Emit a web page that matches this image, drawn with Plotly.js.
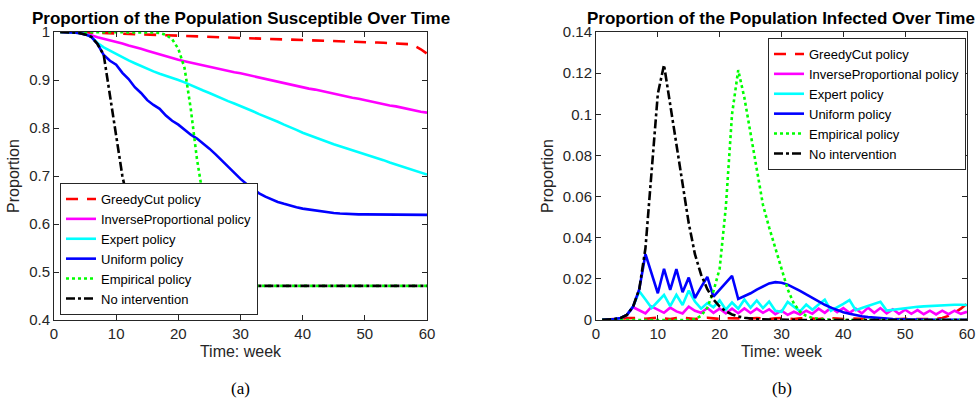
<!DOCTYPE html>
<html>
<head>
<meta charset="utf-8">
<script src="https://cdn.plot.ly/plotly-3.0.1.min.js"></script>
<style>html,body{margin:0;padding:0;background:#fff;}#chart{width:977px;height:402px;}</style>
</head>
<body>
<div id="chart"></div>
<script>
// ---------- data ----------
const weeks = [1,2,3,4,5,6,7,8,9,10,11,12,13,14,15,16,17,18,19,20,21,22,23,24,25,26,27,28,29,30,
               31,32,33,34,35,36,37,38,39,40,41,42,43,44,45,46,47,48,49,50,51,52,53,54,55,56,57,58,59,60];
const seriesNames = ["GreedyCut policy","InverseProportional policy","Expert policy","Uniform policy","Empirical policy","No intervention"];

// Susceptible proportion (panel a)
const susGreedy = [1,1,0.9998,0.9996,0.999,0.9987,0.9984,0.998,0.9976,0.9972,0.9968,0.9964,0.996,0.9956,0.9952,0.9948,0.9944,0.994,0.9936,0.993,
  0.9925,0.992,0.9914,0.9908,0.9902,0.9896,0.989,0.9885,0.988,0.9875,0.987,0.9865,0.986,0.9855,0.985,0.9845,0.984,0.9836,0.9832,0.9828,
  0.9824,0.982,0.9816,0.9812,0.9808,0.9804,0.98,0.9796,0.9792,0.9788,0.9784,0.978,0.9776,0.9772,0.9768,0.9762,0.9748,0.971,0.964,0.955];
const susInverse = [1,1,0.999,0.998,0.996,0.993,0.989,0.986,0.983,0.979,0.976,0.972,0.969,0.965,0.961,0.957,0.953,0.949,0.946,0.942,
  0.939,0.936,0.933,0.931,0.928,0.925,0.922,0.919,0.916,0.914,0.911,0.908,0.905,0.902,0.899,0.896,0.894,0.891,0.888,0.885,
  0.882,0.880,0.877,0.874,0.871,0.869,0.866,0.863,0.861,0.858,0.855,0.853,0.850,0.847,0.845,0.842,0.840,0.837,0.834,0.832];
const susExpert = [1,1,0.999,0.998,0.996,0.990,0.977,0.968,0.961,0.954,0.947,0.941,0.935,0.929,0.924,0.918,0.913,0.909,0.904,0.900,
  0.895,0.889,0.884,0.878,0.873,0.867,0.862,0.856,0.851,0.846,0.840,0.835,0.829,0.824,0.818,0.813,0.807,0.802,0.796,0.790,
  0.785,0.780,0.775,0.770,0.766,0.762,0.758,0.754,0.750,0.746,0.742,0.737,0.733,0.728,0.724,0.720,0.716,0.711,0.707,0.703];
const susUniform = [1,1,0.999,0.998,0.995,0.990,0.975,0.952,0.940,0.932,0.915,0.902,0.885,0.873,0.858,0.848,0.840,0.826,0.815,0.807,
  0.797,0.786,0.778,0.768,0.757,0.745,0.732,0.719,0.706,0.694,0.683,0.673,0.664,0.657,0.651,0.646,0.642,0.638,0.635,0.632,
  0.630,0.628,0.626,0.624,0.623,0.622,0.621,0.621,0.620,0.620,0.620,0.620,0.620,0.619,0.619,0.619,0.619,0.619,0.619,0.619];
const susEmpirical = [1,1,1,1,1,1,1,1,1,1,1,1,1,1,1,0.999,0.998,0.994,0.985,0.965,
  0.925,0.840,0.735,0.655,0.595,0.545,0.510,0.490,0.480,0.475,0.472,0.471,0.471,0.471,0.471,0.471,0.471,0.471,0.471,0.471,
  0.471,0.471,0.471,0.471,0.471,0.471,0.471,0.471,0.471,0.471,0.471,0.471,0.471,0.471,0.471,0.471,0.471,0.471,0.471,0.471];
const susNone = [1,1,0.999,0.998,0.995,0.990,0.975,0.952,0.870,0.785,0.700,0.640,0.580,0.533,0.505,0.490,0.481,0.476,0.473,0.472,
  0.471,0.471,0.471,0.471,0.471,0.471,0.471,0.471,0.471,0.471,0.471,0.471,0.471,0.471,0.471,0.471,0.471,0.471,0.471,0.471,
  0.471,0.471,0.471,0.471,0.471,0.471,0.471,0.471,0.471,0.471,0.471,0.471,0.471,0.471,0.471,0.471,0.471,0.471,0.471,0.471];

// Infected proportion (panel b)
const infGreedy = [0.0001,0.0002,0.0004,0.0006,0.0009,0.0011,0.001,0.0006,0.0009,0.0011,0.0008,0.0005,0.0009,0.0011,0.0008,0.0005,0.0009,0.0011,0.0008,0.0005,
  0.0009,0.001,0.0008,0.0005,0.0008,0.001,0.0008,0.0005,0.0008,0.001,0.0007,0.0005,0.0008,0.0009,0.0007,0.0005,0.0008,0.0009,0.0007,0.0005,
  0.0007,0.0008,0.0006,0.0004,0.0006,0.0007,0.0005,0.0004,0.0005,0.0006,0.0005,0.0004,0.0004,0.0004,0.0005,0.001,0.002,0.0035,0.0055,0.008];
const infInverse = [0.0001,0.0002,0.0005,0.001,0.0025,0.0062,0.0045,0.0032,0.0065,0.0048,0.0035,0.006,0.0042,0.0032,0.0065,0.0045,0.0035,0.0058,0.0035,0.0055,
  0.0032,0.0055,0.0033,0.0056,0.0034,0.0055,0.0035,0.0052,0.0028,0.0045,0.0025,0.004,0.0027,0.0045,0.003,0.0055,0.0035,0.006,0.0038,0.0058,
  0.0035,0.0055,0.0032,0.006,0.0035,0.0058,0.0032,0.0052,0.003,0.005,0.003,0.0048,0.0028,0.0045,0.0027,0.0045,0.0028,0.0045,0.003,0.004];
const infExpert = [0.0001,0.0002,0.0005,0.001,0.0025,0.0065,0.014,0.010,0.0058,0.009,0.0122,0.0068,0.0122,0.0073,0.0143,0.009,0.0055,0.0082,0.0062,0.0095,
  0.005,0.0085,0.0055,0.010,0.006,0.0095,0.0058,0.009,0.0045,0.004,0.0088,0.0065,0.0042,0.0075,0.005,0.0075,0.0099,0.0045,0.006,0.0078,
  0.0097,0.0048,0.0058,0.0068,0.0078,0.0089,0.0046,0.005,0.0054,0.0058,0.0061,0.0064,0.0066,0.0068,0.007,0.0072,0.0073,0.0074,0.0074,0.0073];
const infUniform = [0.0001,0.0002,0.0005,0.001,0.0025,0.0065,0.015,0.032,0.0225,0.013,0.0249,0.0146,0.0247,0.0135,0.0206,0.0107,0.016,0.021,0.0114,0.0148,
  0.018,0.0215,0.0102,0.0115,0.013,0.0148,0.0165,0.0178,0.0184,0.0181,0.0172,0.0158,0.0142,0.0124,0.0106,0.0089,0.0074,0.006,0.0048,0.0038,
  0.003,0.0023,0.0018,0.0014,0.0011,0.0008,0.0006,0.0005,0.0004,0.0003,0.0003,0.0002,0.0002,0.0002,0.0001,0.0001,0.0001,0.0001,0.0001,0.0001];
const infEmpirical = [0,0,0,0,0,0,0,0,0,0,0,0,0,0,0,0.0005,0.002,0.006,0.014,0.025,
  0.055,0.100,0.1215,0.108,0.090,0.073,0.056,0.045,0.035,0.024,0.015,0.008,0.004,0.002,0.001,0.0005,0.0002,0.0001,0,0,
  0,0,0,0,0,0,0,0,0,0,0,0,0,0,0,0,0,0,0,0];
const infNone = [0.0001,0.0002,0.0005,0.001,0.0025,0.0065,0.015,0.035,0.072,0.110,0.124,0.105,0.086,0.066,0.047,0.032,0.022,0.015,0.010,0.0065,
  0.0042,0.0027,0.0017,0.0011,0.0007,0.0004,0.0003,0.0002,0.0001,0.0001,0,0,0,0,0,0,0,0,0,0,
  0,0,0,0,0,0,0,0,0,0,0,0,0,0,0,0,0,0,0,0];

const xTicks = [0,10,20,30,40,50,60];
const yTicksA = [0.4,0.5,0.6,0.7,0.8,0.9,1];
const yTickTextA = ["0.4","0.5","0.6","0.7","0.8","0.9","1"];
const yTicksB = [0,0.02,0.04,0.06,0.08,0.1,0.12,0.14];
const yTickTextB = ["0","0.02","0.04","0.06","0.08","0.1","0.12","0.14"];

// ---------- styles ----------
const styles = [
  {color:"#ff0000", dash:"12px,9px"},
  {color:"#ff00ff", dash:"solid"},
  {color:"#00ffff", dash:"solid"},
  {color:"#0000ff", dash:"solid"},
  {color:"#00ff00", dash:"dot"},
  {color:"#000000", dash:"dashdot"}
];
const susSeries = [susGreedy,susInverse,susExpert,susUniform,susEmpirical,susNone];
const infSeries = [infGreedy,infInverse,infExpert,infUniform,infEmpirical,infNone];

const traces = [];
susSeries.forEach((ys,i)=>{
  traces.push({x:weeks,y:ys,type:"scatter",mode:"lines",name:seriesNames[i],
    xaxis:"x",yaxis:"y",legend:"legend",
    line:{color:styles[i].color,dash:styles[i].dash,width:2.6}});
});
infSeries.forEach((ys,i)=>{
  traces.push({x:weeks,y:ys,type:"scatter",mode:"lines",name:seriesNames[i],
    xaxis:"x2",yaxis:"y2",legend:"legend2",
    line:{color:styles[i].color,dash:styles[i].dash,width:2.6}});
});

const axCol = "#262626";
const font = "Liberation Sans, Arial, Helvetica, sans-serif";
function xax(domain, anchor){
  return {domain:domain, anchor:anchor, range:[0,60], tickvals:xTicks, ticktext:xTicks.map(String),
    showline:true, linecolor:axCol, linewidth:1, mirror:"allticks", ticks:"inside", ticklen:5, tickcolor:axCol,
    showgrid:false, zeroline:false, tickfont:{family:font,size:15,color:axCol},
    title:{text:"Time: week", font:{family:font,size:16,color:axCol}, standoff:4}};
}
function yax(domain, anchor, range, vals, txt){
  return {domain:domain, anchor:anchor, range:range, tickvals:vals, ticktext:txt,
    showline:true, linecolor:axCol, linewidth:1, mirror:"allticks", ticks:"inside", ticklen:5, tickcolor:axCol,
    showgrid:false, zeroline:false, tickfont:{family:font,size:15,color:axCol},
    title:{text:"Proportion", font:{family:font,size:16,color:axCol}, standoff:5}};
}
const W=977, H=402;
const ydom = [1-320/H, 1-32/H];
const layout = {
  width:W, height:H, margin:{l:0,r:0,t:0,b:0}, paper_bgcolor:"#fff", plot_bgcolor:"#fff",
  font:{family:font,color:axCol},
  xaxis: xax([54/W, 427/W], "y"),
  yaxis: yax(ydom, "x", [0.4,1], yTicksA, yTickTextA),
  xaxis2: xax([596/W, 967/W], "y2"),
  yaxis2: yax(ydom, "x2", [0,0.14], yTicksB, yTickTextB),
  legend:{x:60/W, y:1-315/H, xanchor:"left", yanchor:"bottom", bgcolor:"#fff", bordercolor:axCol, borderwidth:1,
    font:{family:font,size:13,color:"#000"}, tracegroupgap:0, itemwidth:30},
  legend2:{x:768/W, y:1-38/H, xanchor:"left", yanchor:"top", bgcolor:"#fff", bordercolor:axCol, borderwidth:1,
    font:{family:font,size:13,color:"#000"}, tracegroupgap:0, itemwidth:30},
  annotations:[
    {text:"<b>Proportion of the Population Susceptible Over Time</b>", xref:"paper", yref:"paper",
      x:240.5/W, y:1-18/H, xanchor:"center", yanchor:"middle", showarrow:false, font:{family:font,size:17,color:"#000"}},
    {text:"<b>Proportion of the Population Infected Over Time</b>", xref:"paper", yref:"paper",
      x:781/W, y:1-18/H, xanchor:"center", yanchor:"middle", showarrow:false, font:{family:font,size:17,color:"#000"}},
    {text:"(a)", xref:"paper", yref:"paper", x:240/W, y:1-388/H, xanchor:"center", yanchor:"middle", showarrow:false,
      font:{family:"Liberation Serif, DejaVu Serif, serif",size:17,color:"#000"}},
    {text:"(b)", xref:"paper", yref:"paper", x:782/W, y:1-388/H, xanchor:"center", yanchor:"middle", showarrow:false,
      font:{family:"Liberation Serif, DejaVu Serif, serif",size:17,color:"#000"}}
  ]
};
Plotly.newPlot("chart", traces, layout, {displayModeBar:false, staticPlot:true});
</script>
</body>
</html>
